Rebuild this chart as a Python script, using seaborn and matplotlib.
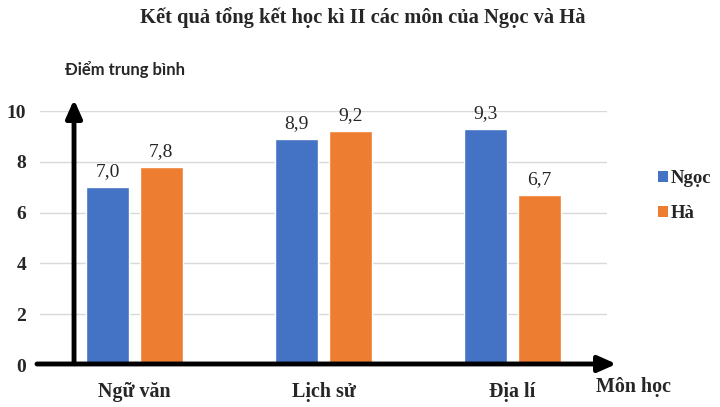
import matplotlib
matplotlib.use("Agg")
import matplotlib.pyplot as plt
import seaborn as sns
import pandas as pd
from matplotlib.patches import Patch

subjects = ["Ngữ văn", "Lịch sử", "Địa lí"]
ngoc = [7.0, 8.9, 9.3]
ha = [7.8, 9.2, 6.7]
series = ["Ngọc", "Hà"]
colors = ["#4472C4", "#ED7D31"]
yticks = [0, 2, 4, 6, 8, 10]

df = pd.DataFrame({
    "subject": subjects * 2,
    "score": ngoc + ha,
    "who": [series[0]] * 3 + [series[1]] * 3,
})

sns.set_theme(style="white")
SERIF = ["Liberation Serif", "DejaVu Serif"]
plt.rcParams["font.family"] = SERIF

fig = plt.figure(figsize=(7.2, 4.07), dpi=100)
ax = fig.add_axes([40 / 720, 1 - 365 / 407, 567 / 720, 254 / 407])

sns.barplot(data=df, x="subject", y="score", hue="who", palette=colors,
            width=0.57, gap=0.2, ax=ax, legend=False, saturation=1)

ax.set_xlim(-0.5, 2.5)
ax.set_ylim(0, 10)
ax.set_yticks(yticks)
ax.set_yticklabels([str(t) for t in yticks], fontsize=14, fontweight="bold",
                   family=SERIF)
ax.tick_params(axis="y", length=0, pad=10)
ax.tick_params(axis="x", length=0, pad=12)
ax.set_xticks(range(len(subjects)))
ax.set_xticklabels(subjects, fontsize=14.4, fontweight="bold", family=SERIF)
ax.grid(axis="y", color="#D9D9D9", linewidth=1)
ax.set_axisbelow(True)
for s in ax.spines.values():
    s.set_visible(False)
ax.set_xlabel("")
ax.set_ylabel("")

for cont in ax.containers:
    labels = [f"{b.get_height():.1f}".replace(".", ",") for b in cont]
    ax.bar_label(cont, labels=labels, padding=5, fontsize=14, family=SERIF)

# Axis arrows
ax.annotate("", xy=(-0.32, 10.45), xytext=(-0.32, 0.05),
            arrowprops=dict(arrowstyle="-|>,head_length=0.9,head_width=0.4",
                            color="black", lw=3.5, shrinkA=0, shrinkB=0),
            annotation_clip=False)
ax.annotate("", xy=(2.55, 0.04), xytext=(-0.516, 0.04),
            arrowprops=dict(arrowstyle="-|>,head_length=0.9,head_width=0.4",
                            color="black", lw=3.5, shrinkA=0, shrinkB=0),
            annotation_clip=False)

fig.text(363 / 720, 1 - 18 / 407, "Kết quả tổng kết học kì II các môn của Ngọc và Hà",
         ha="center", va="center", fontsize=14.8, fontweight="bold", family=SERIF)
fig.text(125 / 720, 1 - 70 / 407, "Điểm trung bình", ha="center", va="center",
         fontsize=12, fontweight="bold", family=["Lato", "DejaVu Sans"])
fig.text(634 / 720, 1 - 387 / 407, "Môn học", ha="center", va="center",
         fontsize=14.4, fontweight="bold", family=SERIF)

handles = [Patch(facecolor=c, edgecolor="none") for c in colors]
fig.legend(handles, series, loc="center left", bbox_to_anchor=(658 / 720, 1 - 196 / 407),
           frameon=False, handlelength=0.55, handleheight=0.55, handletextpad=0.15,
           labelspacing=0.95, borderpad=0, borderaxespad=0,
           prop=dict(size=13.5, weight="bold", family=SERIF))

fig.savefig("out.png", dpi=100)
